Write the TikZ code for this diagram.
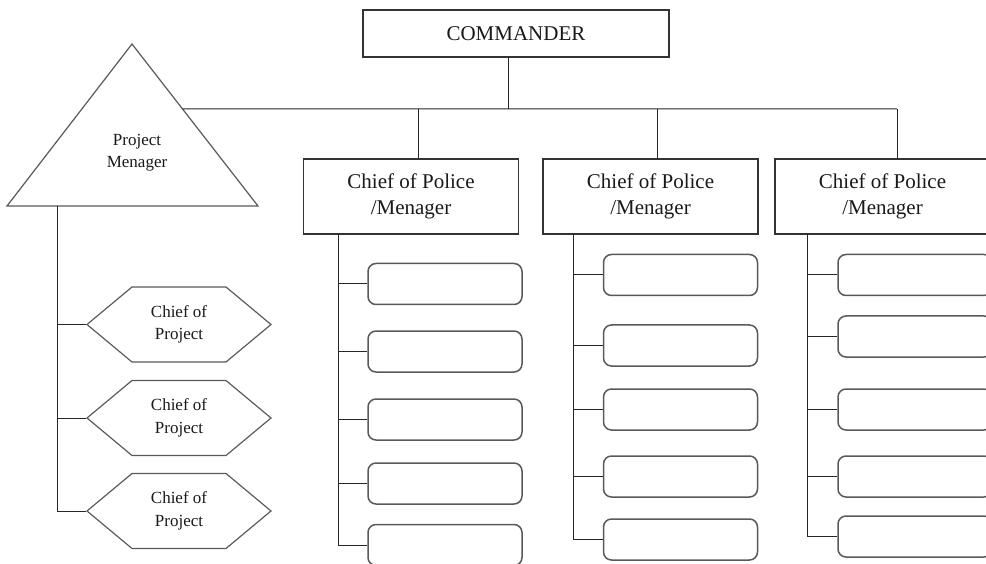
\documentclass[tikz,border=0pt]{standalone}
\usepackage{fontspec}
\setmainfont{Liberation Serif}
\usetikzlibrary{shapes.symbols,calc}

\begin{document}
\begin{tikzpicture}
		[x=1pt,y=-1pt,
		 ln/.style= {line width=1pt,draw=black!85},
		 box/.style= {rectangle,draw=black!80,line width=1.2pt,inner sep=0pt,align=center,text=black!90},
		 cmd/.style= {box,minimum width=306pt,minimum height=47pt,font=\fontsize{21}{26}\selectfont},
		 cp/.style= {box,minimum width=215pt,minimum height=75pt,font=\fontsize{21}{26}\selectfont},
		 leaf/.style= {rectangle,rounded corners=8pt,draw=black!65,line width=1.5pt,minimum width=154pt,minimum height=41pt,inner sep=0pt},
		 hexa/.style= {signal,signal to=west and east,signal pointer angle=79.6,draw=black!65,line width=1.2pt,
		               minimum width=184pt,minimum height=75pt,inner sep=0pt,align=center,text=black!90,
		               font=\fontsize{17}{22.5}\selectfont},
		 elbow/.style= {ln,to path={-| (\tikztotarget)}}]

		\useasboundingbox (0,0) rectangle (986,564);
		\clip (0,0) rectangle (986,564);

		\node[cmd] (cmd) at (516,33.5) {COMMANDER}
		;

		% project manager triangle
		\coordinate (ta) at (132,44);
		\coordinate (tl) at (7,206);
		\coordinate (tr) at (258,206);
		\draw[draw=black!65,line width=1.2pt] (tl) -- (ta) -- (tr) -- cycle;
		\coordinate (pmr) at ($(tr)!0.5988!(ta)$);
		\node[align=center,text=black!90,font=\fontsize{17}{22}\selectfont] (pm) at (137,153) {Project\\Menager};

		\coordinate (bus) at (508,109);
		\coordinate (d1) at (418,109);
		\coordinate (d2) at (657,109);
		\coordinate (d3) at (897,109);

		\node[cp] (p1) at (411,196.5) {Chief of Police\\/Menager};
		\node[cp] (p2) at (650.5,196.5) {Chief of Police\\/Menager};
		\node[cp] (p3) at (882.5,196.5) {Chief of Police\\/Menager};

		\draw[ln] (cmd.south -| bus) -- (bus);
		\draw[ln] (pmr) -- (d3);
		\draw[ln] (d1) -- (d1 |- p1.north);
		\draw[ln] (d2) -- (d2 |- p2.north);
		\draw[ln] (d3) -- (d3 |- p3.north);

		% chiefs of project
		\coordinate (lt) at (57,206);

		\node[hexa] (h1) at (179,324.5) {Chief of\\Project}
			edge [elbow]	(lt)
		;
		\node[hexa] (h2) at (179,418) {Chief of\\Project}
			edge [elbow]	(lt)
		;
		\node[hexa] (h3) at (179,511) {Chief of\\Project}
			edge [elbow]	(lt)
		;

		% first column
		\coordinate (t1) at (338,234);

		\node[leaf] (a1) at (445,284) {}
			edge [elbow]	(t1)
		;
		\node[leaf] (a2) at (445,351.5) {}
			edge [elbow]	(t1)
		;
		\node[leaf] (a3) at (445,419.5) {}
			edge [elbow]	(t1)
		;
		\node[leaf] (a4) at (445,483.5) {}
			edge [elbow]	(t1)
		;
		\node[leaf] (a5) at (445,545) {}
			edge [elbow]	(t1)
		;

		% second column
		\coordinate (t2) at (573,234);

		\node[leaf] (b1) at (680.5,275) {}
			edge [elbow]	(t2)
		;
		\node[leaf] (b2) at (680.5,345.5) {}
			edge [elbow]	(t2)
		;
		\node[leaf] (b3) at (680.5,409.5) {}
			edge [elbow]	(t2)
		;
		\node[leaf] (b4) at (680.5,476.5) {}
			edge [elbow]	(t2)
		;
		\node[leaf] (b5) at (680.5,539.5) {}
			edge [elbow]	(t2)
		;

		% third column
		\coordinate (t3) at (807,234);

		\node[leaf] (c1) at (915,275) {}
			edge [elbow]	(t3)
		;
		\node[leaf] (c2) at (915,336.5) {}
			edge [elbow]	(t3)
		;
		\node[leaf] (c3) at (915,409.5) {}
			edge [elbow]	(t3)
		;
		\node[leaf] (c4) at (915,476.5) {}
			edge [elbow]	(t3)
		;
		\node[leaf] (c5) at (915,536.5) {}
			edge [elbow]	(t3)
		;

	\end{tikzpicture}
\end{document}
